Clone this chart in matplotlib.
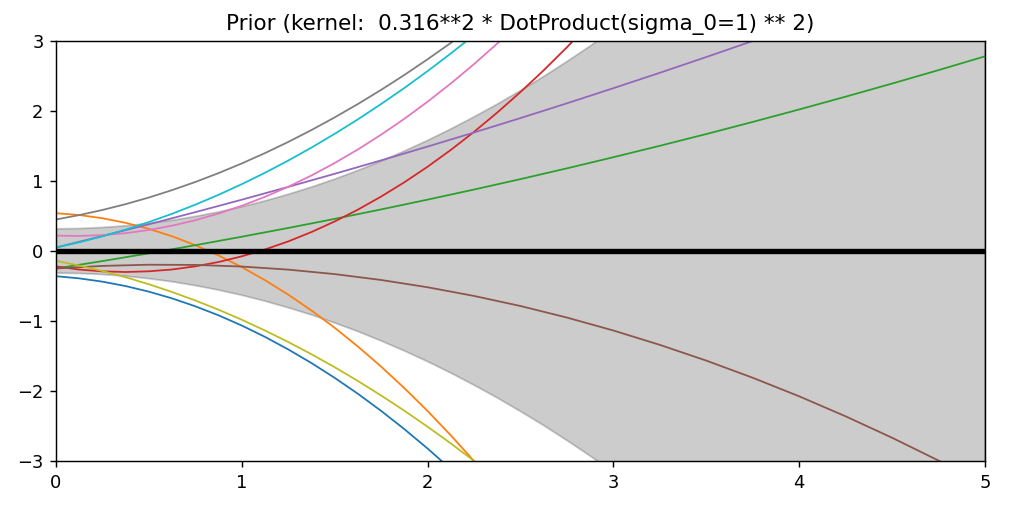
import matplotlib
matplotlib.use("Agg")
import matplotlib.pyplot as plt
import numpy as np

# x grids the values were read at (step 0.125 and 0.25)
x_fine = np.linspace(0, 5, 41)
x_coarse = np.linspace(0, 5, 21)

# prior std (band around the zero mean), on the fine grid
y_std = [0.316, 0.321, 0.336, 0.360, 0.395, 0.439, 0.494, 0.558, 0.632, 0.716,
         0.810, 0.913, 1.027, 1.150, 1.284, 1.427, 1.580, 1.743, 1.916, 2.098,
         2.291, 2.493, 2.706, 2.928, 3.160, 3.402, 3.654, 3.915, 4.187, 4.468,
         4.760, 5.061, 5.372, 5.693, 6.024, 6.364, 6.715, 7.075, 7.446, 7.826, 8.216]
y_mean = [0.0] * 41

# prior samples, read off the picture until they leave the y range
# fine grid (step 0.125)
s_blue = [-0.360, -0.391, -0.438, -0.501, -0.581, -0.677, -0.790, -0.919, -1.065, -1.227,
          -1.406, -1.601, -1.812, -2.040, -2.284, -2.545, -2.822, -3.116, -3.426]
s_orange = [0.540, 0.514, 0.468, 0.402, 0.316, 0.210, 0.083, -0.064, -0.230, -0.417,
            -0.623, -0.850, -1.097, -1.365, -1.652, -1.959, -2.286, -2.634, -3.001, -3.389, -3.796]
s_red = [-0.220, -0.265, -0.291, -0.300, -0.290, -0.264, -0.219, -0.157, -0.076, 0.022,
         0.137, 0.271, 0.422, 0.591, 0.778, 0.982, 1.204, 1.444, 1.702, 1.978,
         2.271, 2.582, 2.911, 3.258, 3.622]
s_pink = [0.220, 0.215, 0.227, 0.255, 0.300, 0.362, 0.440, 0.535, 0.646, 0.774,
          0.918, 1.079, 1.257, 1.451, 1.662, 1.889, 2.133, 2.393, 2.670, 2.964, 3.274]
s_gray = [0.450, 0.513, 0.586, 0.670, 0.764, 0.870, 0.986, 1.113, 1.251, 1.399,
          1.558, 1.728, 1.909, 2.100, 2.302, 2.515, 2.739, 2.973, 3.218]
s_olive = [-0.140, -0.208, -0.286, -0.375, -0.475, -0.586, -0.707, -0.839, -0.982, -1.136,
           -1.300, -1.475, -1.660, -1.857, -2.064, -2.282, -2.510, -2.749, -2.999, -3.260, -3.531]
s_cyan = [0.050, 0.124, 0.210, 0.306, 0.414, 0.532, 0.662, 0.803, 0.955, 1.118,
          1.292, 1.477, 1.674, 1.881, 2.100, 2.329, 2.570, 2.822, 3.085]
# coarse grid (step 0.25), nearly straight ones
s_green = [-0.250, -0.144, -0.033, 0.083, 0.204, 0.329, 0.459, 0.594, 0.734, 0.878, 1.027,
           1.181, 1.340, 1.503, 1.671, 1.844, 2.022, 2.205, 2.392, 2.584, 2.781]
s_purple = [0.050, 0.214, 0.382, 0.555, 0.733, 0.916, 1.103, 1.295, 1.492, 1.693, 1.899,
            2.110, 2.326, 2.546, 2.771, 3.000, 3.234]
s_brown = [-0.250, -0.213, -0.196, -0.199, -0.222, -0.266, -0.330, -0.414, -0.518, -0.642, -0.786,
           -0.951, -1.136, -1.341, -1.566, -1.811, -2.076, -2.362, -2.668, -2.994, -3.340]

# same order as the colour cycle (C0..C9)
samples = [(x_fine, s_blue), (x_fine, s_orange), (x_coarse, s_green), (x_fine, s_red),
           (x_coarse, s_purple), (x_coarse, s_brown), (x_fine, s_pink), (x_fine, s_gray),
           (x_fine, s_olive), (x_fine, s_cyan)]

title = "Prior (kernel:  0.316**2 * DotProduct(sigma_0=1) ** 2)"

fig = plt.figure(figsize=(8, 510 / 128.75), dpi=128.75)
ax = fig.add_axes([56 / 1030, 49 / 510, 929 / 1030, 420 / 510])

m = np.array(y_mean)
sd = np.array(y_std)
ax.plot(x_fine, m, "k", lw=3, zorder=9)
ax.fill_between(x_fine, m - sd, m + sd, alpha=0.2, color="k")
for xs, s in samples:
    ax.plot(xs[:len(s)], s, lw=1)

ax.set_xlim(0, 5)
ax.set_ylim(-3, 3)
ax.set_title(title, fontsize=12)

fig.savefig("out.png", dpi=128.75)
plt.close(fig)
